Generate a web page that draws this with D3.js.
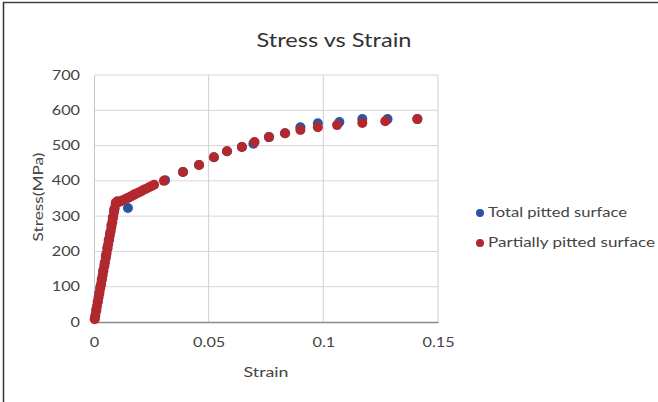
<!DOCTYPE html>
<html><head><meta charset="utf-8">
<script src="https://cdn.jsdelivr.net/npm/d3@7"></script>
<style>body{margin:0;background:#fff}svg{display:block}</style>
</head><body>
<script>
const title = "Stress vs Strain";
const xLabel = "Strain";
const yLabel = "Stress(MPa)";
const xTicks = [0, 0.05, 0.1, 0.15];
const xTickLabels = ["0", "0.05", "0.1", "0.15"];
const yTicks = [0, 100, 200, 300, 400, 500, 600, 700];
const seriesNames = ["Total pitted surface", "Partially pitted surface"];
const seriesColors = ["#2b55a3", "#b3282d"];

// Total pitted surface (strain, stress)
const totalStrain = [0.0004,0.001,0.0016,0.0022,0.0028,0.0034,0.004,0.0046,0.0052,0.0058,0.0064,0.007,0.0076,0.0082,0.0088,0.0095,0.0148,0.031,0.0388,0.0458,0.0523,0.058,0.0645,0.0695,0.0763,0.0833,0.090,0.0976,0.107,0.117,0.128,0.141];
const totalStress = [12,35,58,80,100,122,145,165,188,210,232,252,275,296,318,335,323,402,425,445,467,484,496,505,524,535,552,563,567,575,575,575];

// Partially pitted surface (strain, stress)
const partStrain = [0.0003,0.0006,0.001,0.0013,0.0017,0.002,0.0024,0.0027,0.0031,0.0034,0.0038,0.0041,0.0045,0.0048,0.0052,0.0055,0.0059,0.0062,0.0066,0.0069,0.0073,0.0076,0.008,0.0083,0.0087,0.009,0.0095,0.0102,0.011,0.0118,0.0126,0.0134,0.0142,0.015,0.0158,0.0166,0.0175,0.0185,0.0195,0.0205,0.0215,0.0225,0.0238,0.025,0.0262,0.0305,0.0388,0.0458,0.0523,0.058,0.0645,0.070,0.0763,0.0833,0.090,0.0976,0.106,0.117,0.127,0.141];
const partStress = [8,20,32,45,58,70,83,95,108,120,133,145,158,170,183,195,208,220,233,245,258,270,283,296,310,322,338,342,340,343,345,347,350,352,355,358,361,364,367,370,374,377,381,385,389,400,425,445,467,484,496,510,524,535,544,552,558,564,569,575];

const W = 658, H = 402;
const svg = d3.select("body").append("svg").attr("width", W).attr("height", H)
  .style("font-family", "Lato, 'Open Sans', sans-serif");

// stretch text horizontally (reference text is wide)
function stretch(sel, factor) {
  sel.each(function() {
    const w = this.getComputedTextLength();
    d3.select(this).attr("textLength", w * factor).attr("lengthAdjust", "spacingAndGlyphs");
  });
}

// outer frame (top and left edges visible)
svg.append("line").attr("x1",3).attr("x2",W).attr("y1",2.5).attr("y2",2.5).attr("stroke","#444").attr("stroke-width",1.5);
svg.append("line").attr("x1",3.5).attr("x2",3.5).attr("y1",2).attr("y2",H).attr("stroke","#333").attr("stroke-width",1.5);

const x = d3.scaleLinear().domain([0, 0.15]).range([94, 438]);
const y = d3.scaleLinear().domain([0, 700]).range([322, 75]);

// gridlines
svg.append("g").selectAll("line").data(yTicks.slice(1)).join("line")
  .attr("x1", x(0)).attr("x2", x(0.15)).attr("y1", d => y(d)).attr("y2", d => y(d))
  .attr("stroke", "#d6d6d6").attr("stroke-width", 1);
svg.append("g").selectAll("line").data(xTicks.slice(1)).join("line")
  .attr("x1", d => x(d)).attr("x2", d => x(d)).attr("y1", y(0)).attr("y2", y(700))
  .attr("stroke", "#d0d0d0").attr("stroke-width", 1);

// axes
const xAxis = svg.append("g").attr("transform", `translate(0,${y(0)})`)
  .call(d3.axisBottom(x).tickValues(xTicks).tickFormat((d,i) => xTickLabels[i]).tickSize(0).tickPadding(16));
xAxis.select(".domain").attr("stroke", "#8a8a8a").attr("stroke-width", 1.5);
xAxis.selectAll("text").attr("font-size", 12.5).attr("fill", "#444").attr("font-family","Lato, sans-serif");
stretch(xAxis.selectAll("text"), 1.3);

const yAxis = svg.append("g").attr("transform", `translate(${x(0)},0)`)
  .call(d3.axisLeft(y).tickValues(yTicks).tickSize(0).tickPadding(14));
yAxis.select(".domain").attr("stroke", "#c8c8c8").attr("stroke-width", 1);
yAxis.selectAll("text").attr("font-size", 12.5).attr("fill", "#444").attr("font-family","Lato, sans-serif");
stretch(yAxis.selectAll("text"), 1.3);

// title & axis labels
svg.append("text").attr("x", 334).attr("y", 47).attr("text-anchor", "middle")
  .attr("font-size", 19).attr("fill", "#333").attr("textLength", 155).attr("lengthAdjust", "spacingAndGlyphs").text(title);
svg.append("text").attr("x", 266).attr("y", 377).attr("text-anchor", "middle")
  .attr("font-size", 13.5).attr("fill", "#444").attr("textLength", 45).attr("lengthAdjust", "spacingAndGlyphs").text(xLabel);
svg.append("text").attr("transform", "translate(43,197) rotate(-90)").attr("text-anchor", "middle")
  .attr("font-size", 13).attr("fill", "#444").attr("textLength", 89).attr("lengthAdjust", "spacingAndGlyphs").text(yLabel);

// points
const totalData = totalStrain.map((s, i) => [s, totalStress[i]]);
const partData = partStrain.map((s, i) => [s, partStress[i]]);
svg.append("g").selectAll("circle").data(totalData).join("circle")
  .attr("cx", d => x(d[0])).attr("cy", d => y(d[1])).attr("r", 5).attr("fill", seriesColors[0]);
svg.append("g").selectAll("circle").data(partData).join("circle")
  .attr("cx", d => x(d[0])).attr("cy", d => y(d[1])).attr("r", 5).attr("fill", seriesColors[1]);

// legend
const legendWidths = [139, 167];
const lg = svg.append("g");
seriesNames.forEach((n, i) => {
  lg.append("circle").attr("cx", 480).attr("cy", 213 + i*30).attr("r", 4).attr("fill", seriesColors[i]);
  lg.append("text").attr("x", 488).attr("y", 217 + i*30).attr("font-size", 12.5).attr("fill", "#444")
    .attr("textLength", legendWidths[i]).attr("lengthAdjust", "spacingAndGlyphs").text(n);
});
</script>
</body></html>
